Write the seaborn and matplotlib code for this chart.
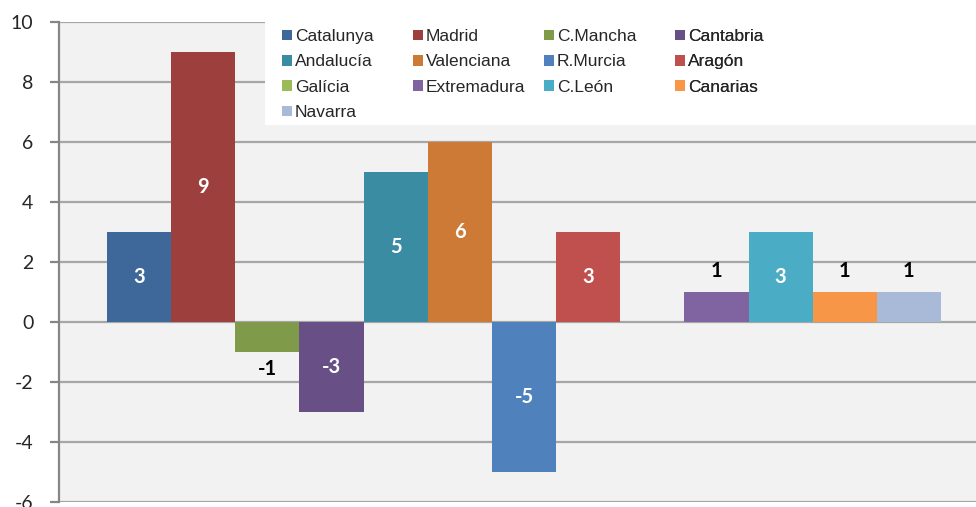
import matplotlib
matplotlib.use("Agg")
import matplotlib.pyplot as plt
import seaborn as sns
from matplotlib.patches import Patch, Rectangle

# Data
regions = ['Catalunya', 'Madrid', 'C.Mancha', 'Cantabria', 'Andalucía', 'Valenciana',
           'R.Murcia', 'Aragón', 'Galícia', 'Extremadura', 'C.León', 'Canarias', 'Navarra']
values = [3, 9, -1, -3, 5, 6, -5, 3, 0, 1, 3, 1, 1]
colors = ['#3E6899', '#9C3F3D', '#7F9A48', '#684F85', '#3A8CA3', '#CD7A36',
          '#4F81BD', '#C0504D', '#9BBB59', '#8064A2', '#4BACC6', '#F79646', '#A9BAD8']
yticks = [-6, -4, -2, 0, 2, 4, 6, 8, 10]

sns.set_style("white")
plt.rcParams['font.family'] = ['Liberation Sans', 'DejaVu Sans']
plt.rcParams['axes.unicode_minus'] = False

fig = plt.figure(figsize=(9.76, 5.07), dpi=100)
ax = fig.add_axes([59 / 976, 5 / 507, 1 - 59 / 976, 480 / 507])
ax.set_facecolor('#F2F2F2')

sns.barplot(x=regions, y=values, hue=regions, palette=colors, width=1.0,
            legend=False, ax=ax, saturation=1, linewidth=0, zorder=2)

ax.set_xlim(-1.248, 13.045)
ax.set_ylim(-6, 10)
ax.set_yticks(yticks)
ax.set_xticks([])
ax.set_xlabel('')
ax.set_ylabel('')
ax.yaxis.grid(True, color='#A6A6A6', linewidth=1.6)
ax.set_axisbelow(True)
for s in ['top', 'right', 'bottom']:
    ax.spines[s].set_visible(False)
ax.spines['left'].set_color('#868686')
ax.spines['left'].set_linewidth(1.6)
ax.tick_params(axis='y', left=True, length=6.5, width=1.6, color='#868686',
               pad=12, labelsize=14)
for lab in ax.get_yticklabels():
    lab.set_family('Lato')

# Value labels
for i, v in enumerate(values):
    if v == 0:
        continue
    if abs(v) >= 3:
        ax.text(i, v / 2, str(v), ha='center', va='center', color='white',
                fontsize=14.5, fontweight='bold', family='Lato', zorder=3)
    elif v > 0:
        ax.annotate(str(v), (i, v), xytext=(0, 8), textcoords='offset points',
                    ha='center', va='bottom', color='black', fontsize=14.5,
                    fontweight='bold', family='Lato', zorder=3)
    else:
        ax.annotate(str(v), (i, v), xytext=(0, -5), textcoords='offset points',
                    ha='center', va='top', color='black', fontsize=14.5,
                    fontweight='bold', family='Lato', zorder=3)

# Legend box (white background) and four columns, filled row by row
ax.add_patch(Rectangle((265 / 976, 1 - 125 / 507), 1 - 265 / 976, 103 / 507,
                       transform=fig.transFigure, facecolor='white',
                       edgecolor='none', zorder=5, clip_on=False))
col_x = [282, 413, 544, 675]
for c in range(4):
    idx = list(range(c, len(regions), 4))
    handles = [Patch(facecolor=colors[k], edgecolor='none', label=regions[k]) for k in idx]
    leg = ax.legend(handles=handles, loc='upper left', frameon=False,
                    bbox_to_anchor=(col_x[c] / 976, 1 - 29 / 507),
                    bbox_transform=fig.transFigure, borderpad=0, borderaxespad=0,
                    fontsize=12.5, handlelength=0.55, handleheight=0.55,
                    handletextpad=0.2, labelspacing=0.6)
    leg.set_zorder(6)
    ax.add_artist(leg)

fig.savefig('out.png', dpi=100)
